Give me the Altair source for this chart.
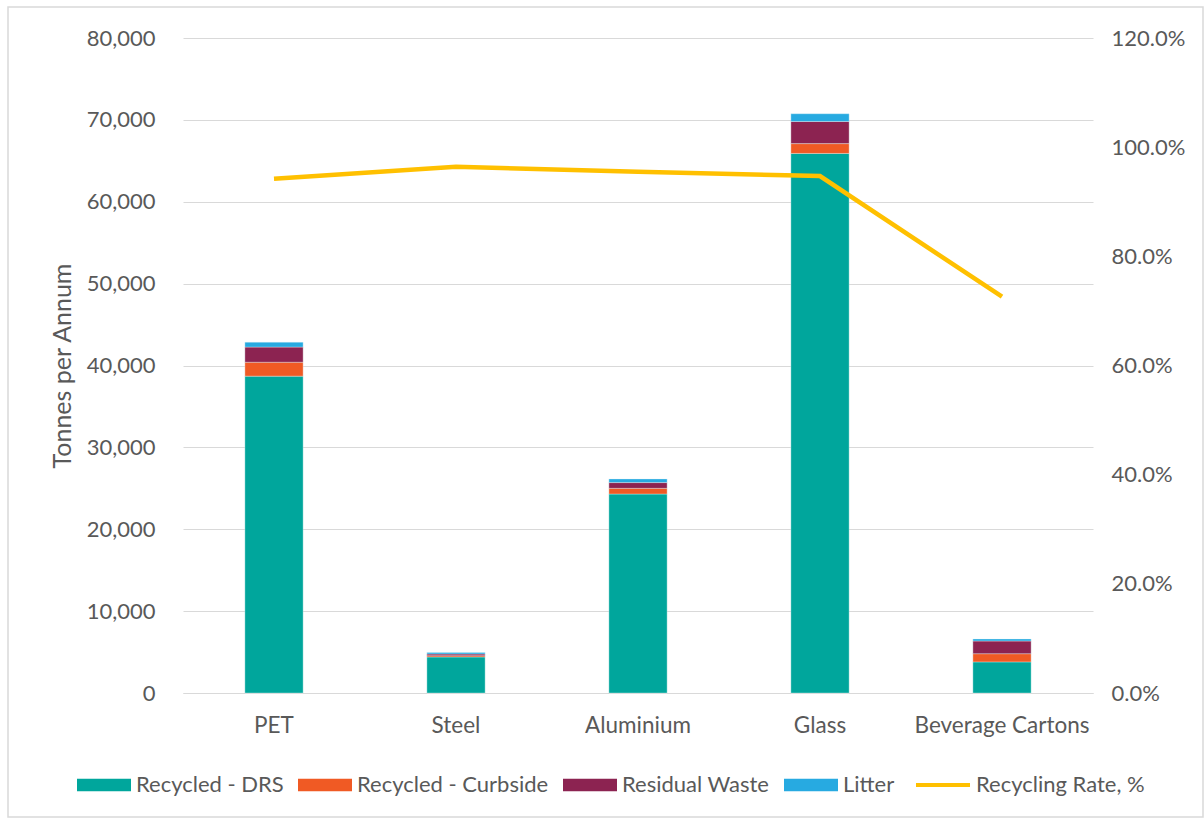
import altair as alt
import pandas as pd

# Beverage container flows (tonnes per annum) and recycling rate by material
categories = ["PET", "Steel", "Aluminium", "Glass", "Beverage Cartons"]
recycled_drs = [38700, 4400, 24300, 65900, 3800]
recycled_curbside = [1700, 160, 700, 1200, 1000]
residual_waste = [1850, 200, 700, 2700, 1550]
litter = [600, 200, 450, 950, 250]
recycling_rate = [0.942, 0.964, 0.955, 0.947, 0.726]

streams = ["Recycled - DRS", "Recycled - Curbside", "Residual Waste", "Litter"]
stream_colors = ["#00A69C", "#F05A24", "#8C2351", "#27AAE1"]
stream_values = [recycled_drs, recycled_curbside, residual_waste, litter]

rows = []
for s_idx, (name, vals) in enumerate(zip(streams, stream_values)):
    for cat, v in zip(categories, vals):
        rows.append({"Material": cat, "Stream": name, "Tonnes": v, "idx": s_idx})
bars_df = pd.DataFrame(rows)

rate_df = pd.DataFrame({
    "Material": categories,
    "Rate": recycling_rate,
    "Series": ["Recycling Rate, %"] * len(categories),
})

FONT = "Lato"
GREY = "#595959"
W, H = 910, 655
LABEL_SIZE = 22

x_enc = alt.X(
    "Material:N",
    sort=categories,
    scale=alt.Scale(paddingInner=0.68, paddingOuter=0.34),
    axis=alt.Axis(
        title=None, labelAngle=0, ticks=False, domain=True, domainColor="#d9d9d9",
        labelPadding=21, labelFontSize=22.5, labelColor=GREY, labelFont=FONT, grid=False,
    ),
)

bars = alt.Chart(bars_df).mark_bar(stroke="#e6f7f6", strokeWidth=0.6, strokeOpacity=0.6).encode(
    x=x_enc,
    y=alt.Y(
        "Tonnes:Q",
        stack="zero",
        scale=alt.Scale(domain=[0, 80000], nice=False),
        axis=alt.Axis(
            title="Tonnes per Annum", values=list(range(0, 80001, 10000)), format=",.0f",
            ticks=False, domain=False, gridColor="#d9d9d9", gridWidth=1.2,
            labelPadding=28, labelFontSize=LABEL_SIZE, labelColor=GREY, labelFont=FONT,
            titleFontSize=25, titleFont=FONT, titleColor=GREY, titleFontWeight="normal",
            titlePadding=11,
        ),
    ),
    fill=alt.Fill(
        "Stream:N",
        sort=streams,
        scale=alt.Scale(domain=streams, range=stream_colors),
        legend=alt.Legend(
            title=None, orient="none", legendX=-106, legendY=720, direction="horizontal",
            columns=4, columnPadding=14, labelOffset=5,
            symbolType="M-1,-0.23H1V0.23H-1Z", symbolSize=2916, symbolStrokeWidth=0,
            labelFontSize=LABEL_SIZE, labelColor=GREY, labelFont=FONT, labelLimit=400,
        ),
    ),
    order=alt.Order("idx:Q", sort="ascending"),
)

line = alt.Chart(rate_df).mark_line(strokeWidth=4.5).encode(
    x=alt.X("Material:N", sort=categories),
    y=alt.Y(
        "Rate:Q",
        scale=alt.Scale(domain=[0, 1.2], nice=False),
        axis=alt.Axis(
            title=None, orient="right", values=[0, 0.2, 0.4, 0.6, 0.8, 1.0, 1.2], format=".1%",
            ticks=False, domain=False, grid=False,
            labelPadding=18, labelFontSize=LABEL_SIZE, labelColor=GREY, labelFont=FONT,
        ),
    ),
    stroke=alt.Stroke(
        "Series:N",
        scale=alt.Scale(range=["#FFC000"]),
        legend=alt.Legend(
            title=None, orient="none", legendX=731, legendY=718, direction="horizontal",
            labelOffset=4, symbolType="stroke", symbolSize=2916, symbolStrokeWidth=4,
            labelFontSize=LABEL_SIZE, labelColor=GREY, labelFont=FONT, labelLimit=400,
        ),
    ),
)

# chart-area frame
frame = alt.Chart(pd.DataFrame({"f": [0]})).mark_rect(
    fill=None, stroke="#d9d9d9", strokeWidth=1.5
).encode(
    x=alt.value(-175), x2=alt.value(1020), y=alt.value(-31), y2=alt.value(779)
)

chart = (
    alt.layer(frame, bars, line)
    .resolve_scale(y="independent")
    .properties(
        width=W, height=H,
        autosize=alt.AutoSizeParams(type="none"),
        padding={"left": 183, "top": 38, "right": 111, "bottom": 125},
        background="white",
    )
    .configure_view(stroke=None)
)

chart.save("out.html", embed_options={"renderer": "svg", "actions": False})
